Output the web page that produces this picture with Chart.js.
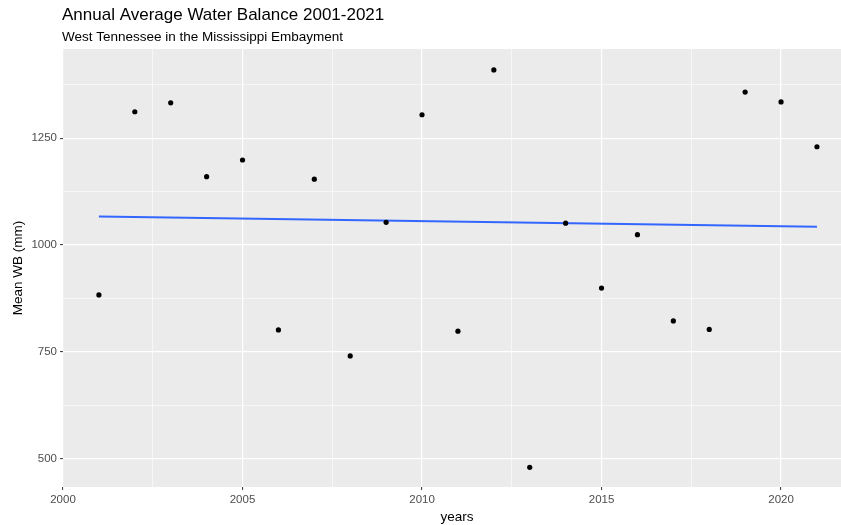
<!DOCTYPE html>
<html>
<head>
<meta charset="utf-8">
<script src="https://cdn.jsdelivr.net/npm/chart.js@4.4.1/dist/chart.umd.min.js"></script>
<style>
  html, body { margin: 0; padding: 0; background: #fff; }
  #wrap { width: 841px; height: 525px; }
  canvas { display: block; }
</style>
</head>
<body>
<div id="wrap"><canvas id="wbChart" width="841" height="525"></canvas></div>
<script>
// Annual average water balance, West Tennessee
const years = [2001, 2002, 2003, 2004, 2005, 2006, 2007, 2008, 2009, 2010, 2011,
               2012, 2013, 2014, 2015, 2016, 2017, 2018, 2019, 2020, 2021];
const meanWB = [883, 1312, 1333, 1160, 1199, 801, 1154, 740, 1053, 1305, 798,
                1410, 479, 1051, 899, 1024, 822, 802, 1358, 1335, 1230];

const xTicks = [2000, 2002.5, 2005, 2007.5, 2010, 2012.5, 2015, 2017.5, 2020];
const xLabels = ['2000', '', '2005', '', '2010', '', '2015', '', '2020'];
const yTicks = [500, 625, 750, 875, 1000, 1125, 1250, 1375];
const yLabels = ['500', '', '750', '', '1000', '', '1250', ''];

const titleText = 'Annual Average Water Balance 2001-2021';
const subtitleText = 'West Tennessee in the Mississippi Embayment';
const FONT = "'Liberation Sans', Arial, sans-serif";

// lm fit, like geom_smooth(method = "lm", se = FALSE)
function linearFit(xs, ys) {
  const n = xs.length;
  const mx = xs.reduce((s, v) => s + v, 0) / n;
  const my = ys.reduce((s, v) => s + v, 0) / n;
  let sxy = 0, sxx = 0;
  xs.forEach((x, i) => { sxy += (x - mx) * (ys[i] - my); sxx += (x - mx) * (x - mx); });
  const b = sxy / sxx;
  return x => my + b * (x - mx);
}
const fit = linearFit(years, meanWB);
const fitLine = [years[0], years[years.length - 1]].map(x => ({ x, y: fit(x) }));

const points = years.map((x, i) => ({ x, y: meanWB[i] }));

const isMajor = (list, labels) => ctx => labels[list.indexOf(ctx.tick.value)] !== '';

const ggPanel = {
  id: 'ggPanel',
  beforeDraw(chart) {
    const { ctx, chartArea: a } = chart;
    ctx.save();
    ctx.fillStyle = '#EBEBEB';
    ctx.fillRect(a.left, a.top, a.right - a.left, a.bottom - a.top);
    ctx.restore();
  },
  afterDraw(chart) {
    const { ctx, chartArea: a } = chart;
    ctx.save();
    ctx.fillStyle = '#000';
    ctx.textAlign = 'left';
    ctx.textBaseline = 'alphabetic';
    ctx.font = `17px ${FONT}`;
    ctx.fillText(titleText, 62, 20);
    ctx.font = `13.5px ${FONT}`;
    ctx.fillText(subtitleText, 62, 41);
    // axis titles
    ctx.font = `13.5px ${FONT}`;
    ctx.textAlign = 'center';
    ctx.fillText('years', 457, 521);
    ctx.translate(22, (a.top + a.bottom) / 2);
    ctx.rotate(-Math.PI / 2);
    ctx.fillText('Mean WB (mm)', 0, 0);
    ctx.restore();
  }
};

new Chart(document.getElementById('wbChart'), {
  type: 'scatter',
  data: {
    datasets: [
      {
        type: 'line',
        data: fitLine,
        borderColor: '#3366FF',
        borderWidth: 2,
        pointRadius: 0,
        fill: false,
        order: 2
      },
      {
        data: points,
        backgroundColor: '#000',
        borderColor: '#000',
        pointRadius: 2.6,
        borderWidth: 0,
        order: 1
      }
    ]
  },
  options: {
    responsive: false,
    animation: false,
    layout: { autoPadding: false, padding: { top: 49, left: 0, right: 0, bottom: 0 } },
    plugins: { legend: { display: false }, tooltip: { enabled: false } },
    scales: {
      x: {
        type: 'linear',
        min: 2000,
        max: 2021.67,
        afterBuildTicks: scale => { scale.ticks = xTicks.map(v => ({ value: v })); },
        afterFit: scale => {
          scale.height = 38;
          scale.paddingLeft = 0;
          scale.paddingRight = 0;
        },
        border: { display: false },
        grid: {
          color: '#FFFFFF',
          lineWidth: ctx => isMajor(xTicks, xLabels)(ctx) ? 1.2 : 0.6,
          tickColor: ctx => isMajor(xTicks, xLabels)(ctx) ? '#333333' : 'rgba(0,0,0,0)',
          tickLength: 3,
          tickWidth: 1
        },
        ticks: {
          autoSkip: false,
          maxRotation: 0,
          padding: 3,
          color: '#4D4D4D',
          font: { family: FONT, size: 11.5 },
          callback: v => xLabels[xTicks.indexOf(v)]
        }
      },
      y: {
        type: 'linear',
        min: 433,
        max: 1459,
        afterBuildTicks: scale => { scale.ticks = yTicks.map(v => ({ value: v })); },
        afterFit: scale => {
          scale.width = 63;
          scale.paddingTop = 0;
          scale.paddingBottom = 0;
        },
        border: { display: false },
        grid: {
          color: '#FFFFFF',
          lineWidth: ctx => isMajor(yTicks, yLabels)(ctx) ? 1.2 : 0.6,
          tickColor: ctx => isMajor(yTicks, yLabels)(ctx) ? '#333333' : 'rgba(0,0,0,0)',
          tickLength: 3,
          tickWidth: 1
        },
        ticks: {
          autoSkip: false,
          padding: 3,
          color: '#4D4D4D',
          font: { family: FONT, size: 11.5 },
          callback: v => yLabels[yTicks.indexOf(v)]
        }
      }
    }
  },
  plugins: [ggPanel]
});
</script>
</body>
</html>
